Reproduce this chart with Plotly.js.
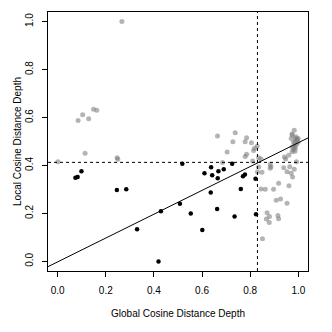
<!DOCTYPE html>
<html>
<head>
<meta charset="utf-8">
<script src="https://cdn.plot.ly/plotly-3.0.1.min.js"></script>
<style>
  html, body { margin: 0; padding: 0; background: #fff; }
  #chart { width: 332px; height: 332px; }
</style>
</head>
<body>
<div id="chart"></div>
<script>
// points below both cut-offs (black)
const blackX = [0.099, 0.074, 0.083, 0.246, 0.285, 0.330, 0.429, 0.508, 0.553, 0.601, 0.6625, 0.735, 0.824, 0.419,
                0.518, 0.725, 0.610, 0.6375, 0.668, 0.690, 0.642, 0.665, 0.770, 0.778, 0.822, 0.761, 0.636];
const blackY = [0.376, 0.349, 0.352, 0.298, 0.301, 0.134, 0.209, 0.240, 0.200, 0.131, 0.219, 0.187, 0.197, 0.000,
                0.4075, 0.4075, 0.3675, 0.3925, 0.376, 0.384, 0.359, 0.3465, 0.355, 0.362, 0.345, 0.302, 0.287];

// remaining points (gray)
const grayX = [0.267, 0.085, 0.104, 0.129, 0.149, 0.1625, 0.114, 0.001, 0.247, 0.250,
               0.664, 0.7375, 0.728, 0.785, 0.779, 0.805, 0.818, 0.829, 0.814, 0.704, 0.785, 0.779, 0.810, 0.685, 0.835, 0.845, 0.830,
               0.835, 0.849, 0.883, 0.886, 0.883, 0.918, 0.939, 0.953, 0.970, 0.976, 0.983, 0.964,
               0.942, 0.947, 0.960, 0.974, 0.979, 0.983, 0.974, 0.986, 0.992,
               0.983, 0.974, 0.970, 0.9875, 0.994, 0.999, 0.980, 0.992, 0.999, 0.990, 0.995, 0.974, 0.986, 0.985, 0.9875,
               0.845, 0.8625, 0.897, 0.961, 0.908, 0.926, 0.953, 0.870, 0.880, 0.867, 0.879, 0.915, 0.918, 0.851];
const grayY = [1.000, 0.588, 0.612, 0.595, 0.635, 0.630, 0.451, 0.416, 0.4325, 0.426,
               0.523, 0.537, 0.499, 0.516, 0.499, 0.495, 0.472, 0.480, 0.462, 0.456, 0.447, 0.437, 0.419, 0.412, 0.4325, 0.427, 0.373,
               0.394, 0.372, 0.405, 0.395, 0.388, 0.326, 0.391, 0.374, 0.3675, 0.352, 0.384, 0.395,
               0.435, 0.427, 0.4425, 0.4575, 0.466, 0.477, 0.477, 0.459, 0.416,
               0.547, 0.527, 0.513, 0.513, 0.506, 0.513, 0.497, 0.488, 0.497, 0.520, 0.510, 0.531, 0.497, 0.485, 0.472,
               0.302, 0.301, 0.301, 0.315, 0.255, 0.260, 0.2425, 0.203, 0.187, 0.177, 0.162, 0.191, 0.178, 0.095];

// cut-offs and fitted line
const globalCut = 0.83;
const localCut = 0.413;
const fitIntercept = -0.002;
const fitSlope = 0.497;

const xRange = [-0.04, 1.04];
const yRange = [-0.04, 1.04];

const traces = [
  {
    x: grayX, y: grayY,
    mode: 'markers', type: 'scatter',
    marker: { color: 'rgba(125,125,125,0.58)', size: 5 },
    hoverinfo: 'x+y'
  },
  {
    x: blackX, y: blackY,
    mode: 'markers', type: 'scatter',
    marker: { color: '#000', size: 4.5 },
    hoverinfo: 'x+y'
  }
];

const font = { family: 'Liberation Sans, Arial, sans-serif', size: 10, color: '#000' };

const layout = {
  width: 332, height: 332,
  margin: { l: 48, r: 24, t: 12, b: 61 },
  paper_bgcolor: '#fff', plot_bgcolor: '#fff',
  showlegend: false,
  font: font,
  xaxis: {
    range: xRange, autorange: false,
    tickvals: [0, 0.2, 0.4, 0.6, 0.8, 1.0],
    tickformat: '.1f',
    ticks: 'outside', ticklen: 5, tickcolor: '#000', tickwidth: 1,
    ticklabelstandoff: 5,
    showgrid: false, zeroline: false,
    showline: true, linecolor: '#000', linewidth: 1, mirror: true,
    title: { text: 'Global Cosine Distance Depth', font: font, standoff: 14 }
  },
  yaxis: {
    range: yRange, autorange: false,
    tickvals: [0, 0.2, 0.4, 0.6, 0.8, 1.0],
    tickformat: '.1f',
    tickangle: -90,
    ticks: 'outside', ticklen: 5, tickcolor: '#000', tickwidth: 1,
    ticklabelstandoff: 5,
    showgrid: false, zeroline: false,
    showline: true, linecolor: '#000', linewidth: 1, mirror: true,
    title: { text: 'Local Cosine Distance Depth', font: font, standoff: 0 }
  },
  shapes: [
    {
      type: 'line', xref: 'paper', yref: 'y',
      x0: 0, x1: 1, y0: localCut, y1: localCut,
      line: { color: '#000', width: 1, dash: '3px,3px' }
    },
    {
      type: 'line', xref: 'x', yref: 'paper',
      x0: globalCut, x1: globalCut, y0: 0, y1: 1,
      line: { color: '#000', width: 1, dash: '3px,3px' }
    },
    {
      type: 'line', xref: 'x', yref: 'y',
      x0: xRange[0], x1: xRange[1],
      y0: fitIntercept + fitSlope * xRange[0],
      y1: fitIntercept + fitSlope * xRange[1],
      line: { color: '#000', width: 1 }
    }
  ]
};

Plotly.newPlot('chart', traces, layout, { displayModeBar: false, staticPlot: true });
</script>
</body>
</html>
